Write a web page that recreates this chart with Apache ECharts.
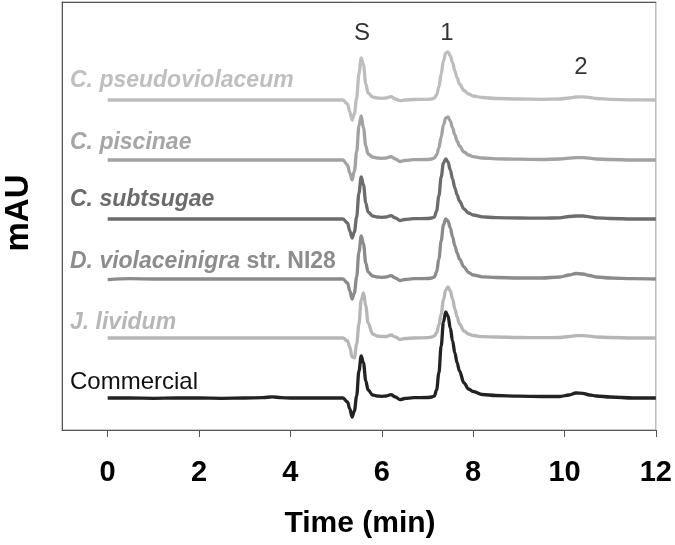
<!DOCTYPE html>
<html>
<head>
<meta charset="utf-8">
<script src="https://cdn.jsdelivr.net/npm/echarts@6/dist/echarts.min.js"></script>
<style>html,body{margin:0;padding:0;background:#fff;}#c{width:675px;height:545px;}</style>
</head>
<body>
<div id="c"></div>
<script>
// Retention time (min)
var times = [0, 0.5, 1, 1.5, 2, 2.5, 3, 3.4, 3.6, 3.8, 4, 4.5, 5, 5.15, 5.25, 5.3, 5.35, 5.4, 5.45, 5.5, 5.55, 5.6, 5.65, 5.7, 5.8, 5.9, 6.0, 6.1, 6.2, 6.3, 6.4, 6.5, 6.7, 7.0, 7.1, 7.15, 7.2, 7.25, 7.3, 7.35, 7.4, 7.45, 7.5, 7.55, 7.6, 7.65, 7.7, 7.8, 7.9, 8.0, 8.2, 8.5, 9.0, 9.5, 9.9, 10.1, 10.25, 10.4, 10.55, 10.7, 11.0, 11.5, 12];

// Signals (mAU, relative to each trace's own baseline)
var pseudoviolaceum = [0,0,0,0,0,0,0,0,0,0,0,0,0, 0,-4,-12,-20,-14,2,26,42,35,16,7,3,2,1.7,2,3.3,1,-0.7,0,0.5,0.7,1,2,5,13,26,39,47,48,44,37,29,22,16,9.5,6,4,2.5,1.5,1,0.7,1,2,3,3.2,2.5,1.5,0.7,0.2,0];
var piscinae = [0,0,0,0,0,0,0,0,0,0,0,0,0, 0,-5,-13,-20,-11,8,34,44,32,14,6,3,2,1.7,2,3.3,1,-1.5,-0.5,0.3,0.5,1,2,5,12,23,35,42,43,39,32,25,19,14,8,5,3.3,2,1.2,0.8,0.5,1,1.8,2.3,2.3,1.8,1,0.5,0,0];
var subtsugae = [0,0,0,0,0,0,0,0,0,0,0,0,0, 0,-4,-12,-19,-13,2,26,42,34,16,7,3,2,1.7,2,3.3,1,-1.5,-0.5,0.3,0.5,1,2,8,23,42,56,60,57,49,40,31,24,18,10,6,4,2.2,1.3,1,0.8,1.2,2.5,3,3,2.2,1.2,0.5,0,0];
var violaceinigra = [-0.7,0.3,0,0,0,0,0,0,0,0,0,0,0, 0,-4,-12,-20,-14,2,27,43,35,16,7,3,2,1.7,2,3.3,1,-1.5,-0.5,0.3,0.5,1,2,7,20,38,54,60,58,51,42,33,26,20,12,6.5,4,2.2,1.5,1,1,2,4,5.5,5,3.5,2,1,0.3,0];
var lividum = [0,0,0,0,0,0,0,0,0,0,0,0,0, 0,-3,-9,-19,-20,-6,14,38,45,32,15,4,2,1.5,1.5,3,1,-1.5,-0.5,0,0.3,1,2,5,13,24,38,48,51,47,39,29,21,14,7,4,2.5,1.3,1,0.5,0.3,0.5,1.5,2.3,2.3,1.8,1,0.5,0,0];
var commercial = [0,0,-0.3,0,0,-0.3,0,0.3,1.2,0.3,0,0,0, 0,-4,-11,-19,-13,2,27,42,35,17,8,3,2,1.7,2,3.3,1,-1.7,-0.5,0.3,0.5,1,2,8,25,52,76,86,82,70,57,45,35,27,15,9,6.5,3.5,2.5,1.8,1.5,1.5,3,5,4.7,3,2,1,0,0];

// Vertical stacking offsets of each trace (mAU)
var offsets = [330, 270, 211, 151, 92, 32];
var seriesNames = ['C. pseudoviolaceum', 'C. piscinae', 'C. subtsugae', 'D. violaceinigra str. NI28', 'J. lividum', 'Commercial'];
var signals = [pseudoviolaceum, piscinae, subtsugae, violaceinigra, lividum, commercial];
var lineColors = ['#bdbdbd', '#a2a2a2', '#6c6c6c', '#8b8b8b', '#b6b6b6', '#222222'];
var xTicks = [0, 2, 4, 6, 8, 10, 12];
var peakLabels = ['S', '1', '2'];

var chart = echarts.init(document.getElementById('c'), null, {renderer: 'canvas'});
var FONT = "'Liberation Sans', Arial, sans-serif";

var series = signals.map(function (sig, k) {
  return {
    name: seriesNames[k],
    type: 'line',
    data: times.map(function (t, i) { return [t, offsets[k] + sig[i]]; }),
    showSymbol: false,
    smooth: 0.35,
    smoothMonotone: 'x',
    lineStyle: {width: 3.3, color: lineColors[k]},
    itemStyle: {color: lineColors[k]},
    z: 2 + k
  };
});

var labelStyles = [
  {y: 80.5, color: '#bfbfbf'},
  {y: 142.5, color: '#a6a6a6'},
  {y: 200, color: '#6b6b6b'},
  {y: 262, color: '#8c8c8c'},
  {y: 322.5, color: '#b7b7b7'},
  {y: 382, color: '#111111'}
];

var graphics = [];
labelStyles.forEach(function (ls, k) {
  var txt, rich;
  if (k === 3) {
    txt = '{i|D. violaceinigra}{n| str. NI28}';
    rich = {
      i: {font: 'italic bold 23px ' + FONT, fill: ls.color},
      n: {font: 'bold 23px ' + FONT, fill: ls.color}
    };
  } else {
    txt = seriesNames[k];
  }
  graphics.push({
    type: 'text', x: 70, y: ls.y, z: 100,
    style: {
      text: txt, rich: rich,
      font: (k === 5 ? 'normal 24px ' : 'italic bold 23px ') + FONT,
      fill: ls.color, verticalAlign: 'middle', align: 'left'
    }
  });
});
// peak annotations
[[362, 33.5], [447, 33.5], [581, 67]].forEach(function (p, j) {
  graphics.push({type: 'text', x: p[0], y: p[1], z: 100,
    style: {text: peakLabels[j], font: 'normal 24px ' + FONT, fill: '#333', align: 'center', verticalAlign: 'middle'}});
});
// axis titles
graphics.push({type: 'text', x: 360, y: 524, z: 100,
  style: {text: 'Time (min)', font: 'bold 30px ' + FONT, fill: '#000', align: 'center', verticalAlign: 'middle'}});
graphics.push({type: 'text', x: 19, y: 213, rotation: Math.PI / 2, z: 100,
  style: {text: 'mAU', font: 'bold 33px ' + FONT, fill: '#000', align: 'center', verticalAlign: 'middle'}});

chart.setOption({
  animation: false,
  backgroundColor: '#fff',
  grid: {left: 62, right: 18, top: 2, bottom: 115, show: true, borderColor: '#999', borderWidth: 1},
  xAxis: [{
    type: 'value', min: -1, max: 12, position: 'bottom',
    axisLine: {show: true, onZero: false, lineStyle: {color: '#555', width: 1}},
    axisTick: {show: true, inside: false, length: 7, lineStyle: {color: '#555'}, customValues: xTicks},
    axisLabel: {show: true, customValues: xTicks, margin: 28, fontFamily: FONT, fontWeight: 'bold', fontSize: 29, color: '#000'},
    splitLine: {show: false}
  }, {
    type: 'value', min: -1, max: 12, position: 'top',
    axisLine: {show: true, onZero: false, lineStyle: {color: '#555', width: 1}},
    axisTick: {show: false}, axisLabel: {show: false}, splitLine: {show: false}
  }],
  yAxis: {
    type: 'value', min: 0, max: 428, position: 'left',
    axisLine: {show: true, onZero: false, lineStyle: {color: '#555', width: 1}},
    axisTick: {show: false}, axisLabel: {show: false}, splitLine: {show: false}
  },
  series: series,
  graphic: graphics
});
</script>
</body>
</html>
